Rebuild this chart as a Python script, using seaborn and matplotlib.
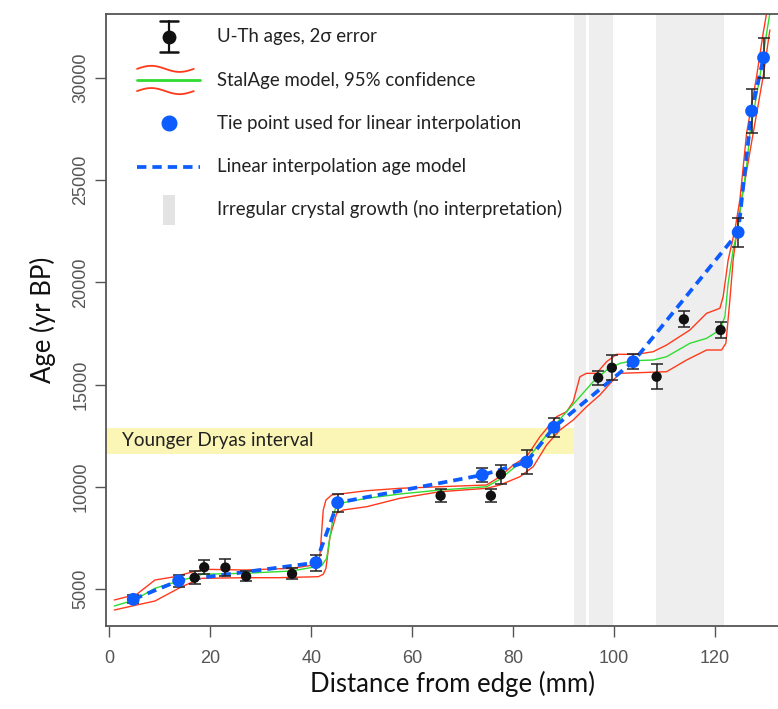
import numpy as np
import pandas as pd
import matplotlib
matplotlib.use("Agg")
import matplotlib.pyplot as plt
from matplotlib.legend_handler import HandlerBase, HandlerPatch, HandlerErrorbar, HandlerLine2D
from matplotlib.container import ErrorbarContainer
from matplotlib.lines import Line2D
from matplotlib.patches import Rectangle, Patch
from matplotlib.transforms import Affine2D
import seaborn as sns

# ---- U-Th dates (distance from edge in mm, age in yr BP, 2-sigma error) ----
uth_dist = [4.75, 13.74, 16.9, 18.8, 23.0, 27.1, 36.2, 40.93, 45.23, 65.62,
            73.86, 75.58, 77.56, 82.65, 88.06, 96.83, 99.54, 103.76, 108.40,
            113.80, 121.07, 124.55, 127.21, 129.58]
uth_age = [4496, 5406, 5550, 6065, 6050, 5620, 5745, 6287, 9222, 9564,
           10577, 9564, 10611, 11213, 12910, 15337, 15826, 16120, 15386,
           18194, 17670, 22450, 28383, 30991]
uth_err = [200, 300, 310, 350, 400, 240, 270, 390, 440, 330,
           325, 320, 470, 610, 465, 350, 610, 365, 610,
           400, 400, 710, 1080, 980]
# dates used as tie points for the linear interpolation model
is_tie = [True, True, False, False, False, False, False, True, True, False,
          True, False, False, True, True, False, False, True, False,
          False, False, True, True, True]

# ---- StalAge model: median and 95% confidence limits ----
med_dist = [0.99, 4.95, 9.05, 13.80, 16.97, 18.30, 26.87, 36.12, 42.06, 43.05,
            44.04, 44.69, 45.35, 46.67, 50.97, 57.56, 65.49, 74.73, 77.37,
            80.00, 82.65, 85.29, 87.92, 90.57, 93.21, 95.84, 98.50, 101.13,
            103.76, 107.72, 110.38, 114.99, 118.30, 120.93, 121.92, 122.57,
            123.56, 124.55, 125.23, 126.22, 126.87, 128.85, 130.18, 130.83]
med_age = [4168, 4462, 5034, 5391, 5602, 5719, 5768, 5881, 6140, 6502,
           8048, 8865, 9109, 9241, 9437, 9647, 9843, 10004, 10366,
           10905, 11311, 12128, 12940, 13674, 14408, 15141, 15713, 16041,
           16168, 16203, 16364, 17020, 17264, 17670, 18321, 19955,
           21584, 22724, 24030, 25659, 27293, 30062, 32185, 33163]

upp_dist = [0.99, 5.43, 9.05, 13.01, 16.63, 18.95, 26.87, 36.12, 41.39, 41.72,
            42.38, 42.91, 44.04, 50.97, 57.56, 65.49, 74.73, 77.37, 80.00,
            82.65, 85.29, 88.59, 90.57, 91.88, 93.21, 94.53, 96.51, 98.50,
            100.48, 104.44, 107.72, 110.38, 114.99, 118.30, 120.93, 121.58,
            122.57, 123.90, 124.89, 126.22, 128.20, 129.50, 130.18]
upp_age = [4462, 4741, 5440, 5602, 5846, 5964, 5929, 6013, 6208, 6663,
           8865, 9354, 9598, 9809, 9926, 10004, 10088, 10494, 11066,
           11472, 12450, 13429, 13674, 14163, 15386, 15552, 15552, 16120,
           16482, 16482, 16609, 16937, 17670, 18487, 18732, 19299,
           21095, 22562, 24030, 27293, 30062, 32185, 33163]

low_dist = [0.99, 5.43, 9.05, 14.34, 18.30, 26.87, 33.47, 41.39, 42.38, 42.91,
            43.70, 45.03, 46.34, 50.97, 57.56, 65.49, 74.73, 77.37, 81.33,
            83.96, 86.61, 89.25, 91.88, 94.53, 97.17, 99.80, 101.13, 110.38,
            114.34, 118.30, 121.27, 122.12, 122.91, 123.56, 124.24, 125.23,
            127.52, 129.50, 130.83]
low_age = [3973, 4217, 4413, 5113, 5523, 5553, 5553, 5602, 5719, 6013,
           7559, 8703, 8865, 9026, 9437, 9760, 9926, 10088, 10494,
           10983, 12045, 12778, 13267, 13918, 14490, 15224, 15552, 15630,
           16203, 16692, 16692, 17020, 19138, 21095, 22400, 24030,
           27293, 30062, 32347]

# ---- shaded intervals ----
yd_age = [11600, 12900]                      # Younger Dryas
yd_dist_end = 92.0
irregular = [(92.0, 94.4), (95.0, 99.7), (108.2, 121.8)]  # irregular crystal growth

x_ticks = [0, 20, 40, 60, 80, 100, 120]
y_ticks = [5000, 10000, 15000, 20000, 25000, 30000]

legend_labels = ["U-Th ages, 2\u03c3 error",
                 "StalAge model, 95% confidence",
                 "Tie point used for linear interpolation",
                 "Linear interpolation age model",
                 "Irregular crystal growth (no interpretation)"]

RED = "#ff3a1c"
GREEN = "#2fdc2f"
BLUE = "#0d5cff"
GREY_BAND = "#eeeeee"
YELLOW = "#fbf6b6"
AXIS_GREY = "#555555"

sns.set_style("ticks")
plt.rcParams["font.family"] = ["Lato", "DejaVu Sans"]

fig = plt.figure(figsize=(7.78, 7.09), dpi=100)
ax = fig.add_axes([106 / 778, 83 / 709, (800 - 106) / 778, (626 - 14) / 709])
ax.set_xlim(-0.65, 136.8)
ax.set_ylim(3190, 33130)

# background intervals
for a, b in irregular:
    ax.axvspan(a, b, color=GREY_BAND, lw=0, zorder=0)
ax.fill_betweenx(yd_age, ax.get_xlim()[0], yd_dist_end, color=YELLOW, lw=0, zorder=0)
ax.text(2.5, np.mean(yd_age), "Younger Dryas interval", fontsize=13.6,
        color="#222222", va="center", ha="left", zorder=1)

# StalAge model
med = pd.DataFrame({"dist": med_dist, "age": med_age})
upp = pd.DataFrame({"dist": upp_dist, "age": upp_age})
low = pd.DataFrame({"dist": low_dist, "age": low_age})
sns.lineplot(data=upp, x="dist", y="age", sort=False, estimator=None,
             color=RED, lw=1.0, ax=ax, zorder=2)
sns.lineplot(data=low, x="dist", y="age", sort=False, estimator=None,
             color=RED, lw=1.0, ax=ax, zorder=2)
sns.lineplot(data=med, x="dist", y="age", sort=False, estimator=None,
             color=GREEN, lw=1.0, ax=ax, zorder=2)

# linear interpolation between tie points
dates = pd.DataFrame({"dist": uth_dist, "age": uth_age, "err": uth_err, "tie": is_tie})
ties = dates[dates["tie"]]
sns.lineplot(data=ties, x="dist", y="age", sort=False, estimator=None,
             color=BLUE, lw=2.7, linestyle=(0, (2.5, 1.6)), ax=ax, zorder=3)

# U-Th dates with error bars
ax.errorbar(dates["dist"], dates["age"], yerr=dates["err"], fmt="none",
            ecolor="#222222", elinewidth=1.1, capsize=4.3, capthick=1.1, zorder=4)
sns.scatterplot(data=dates, x="dist", y="age", color="#111111", s=55,
                edgecolor="none", ax=ax, zorder=5)
sns.scatterplot(data=ties, x="dist", y="age", color=BLUE, s=85,
                edgecolor="none", ax=ax, zorder=6)

# axes styling
ax.set_xticks(x_ticks)
ax.set_yticks(y_ticks)
ax.tick_params(direction="out", length=8, width=1.0, color=AXIS_GREY,
               labelcolor=AXIS_GREY, labelsize=13, labelfontfamily="Liberation Sans")
ax.tick_params(axis="x", pad=9)
ax.tick_params(axis="y", pad=4)
for lab in ax.get_yticklabels():
    lab.set_rotation(90)
    lab.set_rotation_mode("anchor")
    lab.set_ha("center")
    lab.set_va("bottom")
for side in ("left", "bottom", "top"):
    ax.spines[side].set_color(AXIS_GREY)
    ax.spines[side].set_linewidth(1.3)
ax.spines["right"].set_visible(False)
ax.set_xlabel("Distance from edge (mm)", fontsize=18.5, color="#111111", labelpad=3)
ax.set_ylabel("Age (yr BP)", fontsize=18.5, color="#111111", labelpad=12)


# ---- legend glyphs ----
class HandlerStalAge(HandlerBase):
    def create_artists(self, legend, orig_handle, xdescent, ydescent,
                       width, height, fontsize, trans):
        span = width * 0.9
        xs = np.linspace(0, span, 40)
        mid = height / 2 - ydescent
        wave = 2.2 * np.sin(2 * np.pi * xs / span)
        top = Line2D(xs - xdescent, mid + 8.0 + wave, color=RED, lw=1.3, transform=trans)
        bot = Line2D(xs - xdescent, mid - 8.0 + wave, color=RED, lw=1.3, transform=trans)
        mline = Line2D([-xdescent, width - xdescent], [mid, mid], color=GREEN, lw=2.0, transform=trans)
        return [top, bot, mline]


class HandlerDate(HandlerBase):
    """Black dot with a capped vertical 2-sigma bar."""
    def create_artists(self, legend, orig_handle, xdescent, ydescent,
                       width, height, fontsize, trans):
        cx = width / 2 - xdescent
        cy = height / 2 - ydescent
        half = 11.2
        cap = 6.5
        bar = Line2D([cx, cx], [cy - half, cy + half], color="#111111", lw=1.6, transform=trans)
        cap_lo = Line2D([cx - cap, cx + cap], [cy - half, cy - half], color="#111111", lw=1.8, transform=trans)
        cap_hi = Line2D([cx - cap, cx + cap], [cy + half, cy + half], color="#111111", lw=1.8, transform=trans)
        dot = Line2D([cx], [cy], marker="o", ls="none", color="#111111", markersize=10,
                     markeredgewidth=0, transform=trans)
        return [bar, cap_lo, cap_hi, dot]


class CenteredLine(HandlerLine2D):
    """Line/marker glyph centred on the handle box."""
    def create_artists(self, legend, orig_handle, xdescent, ydescent,
                       width, height, fontsize, trans):
        shift = Affine2D().translate(0, -ydescent / 2)
        return super().create_artists(legend, orig_handle, xdescent, ydescent,
                                      width, height, fontsize, shift + trans)


def band_glyph(legend, orig_handle, xdescent, ydescent, width, height, fontsize):
    w = 8.6
    h = 21.6
    mid = height / 2 - ydescent
    return Rectangle((width / 2 - w / 2 - xdescent, mid - h / 2), w, h)


date_handle = Line2D([], [], color="#111111", marker="o")
stalage_handle = Line2D([], [], color=GREEN)
tie_handle = Line2D([], [], marker="o", ls="none", color=BLUE, markersize=10.5)
lin_handle = Line2D([], [], color=BLUE, lw=2.7, ls=(0, (2.5, 1.6)))
band_handle = Patch(facecolor="#e3e3e3", edgecolor="none")

LEG_FS = 13.4
leg = ax.legend([date_handle, stalage_handle, tie_handle, lin_handle, band_handle],
                legend_labels, loc="upper left",
                bbox_to_anchor=(137 / 778, 1 - 17.5 / 709), bbox_transform=fig.transFigure,
                frameon=False, fontsize=LEG_FS, numpoints=1, handlelength=3.39,
                handleheight=2.8, labelspacing=0.26, handletextpad=0.91,
                borderpad=0, borderaxespad=0,
                handler_map={date_handle: HandlerDate(),
                             stalage_handle: HandlerStalAge(),
                             tie_handle: CenteredLine(),
                             lin_handle: CenteredLine(),
                             Patch: HandlerPatch(patch_func=band_glyph)})
for t in leg.get_texts():
    t.set_color("#222222")

fig.savefig("out.png", dpi=100)
